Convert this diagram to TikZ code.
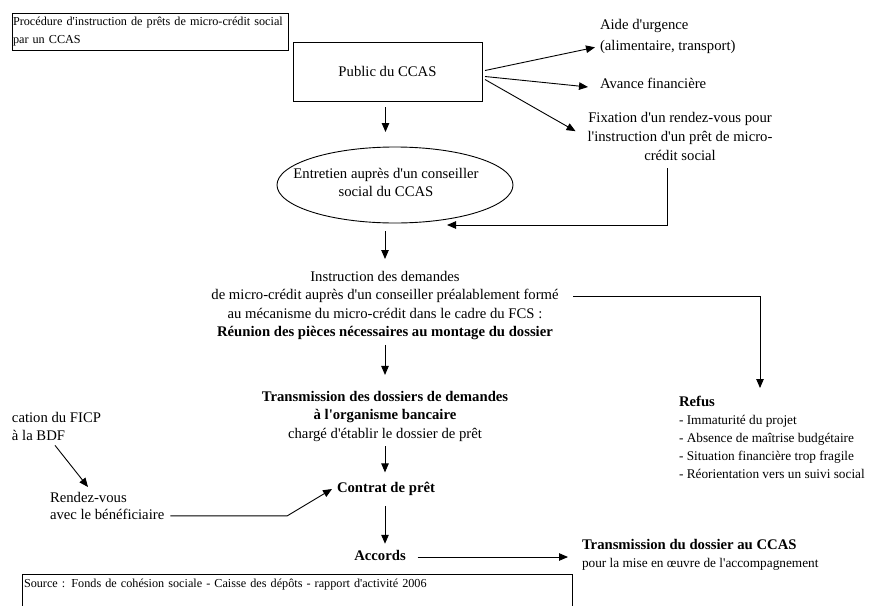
\documentclass[tikz,border=0pt]{standalone}
\usepackage{fontspec}
\setmainfont{Liberation Serif}[Ligatures=TeXOff]
\usetikzlibrary{arrows.meta,positioning,shapes.geometric,calc}

\begin{document}
\begin{tikzpicture}[x=1pt, y=-1pt, >={Triangle[length=9pt,width=7.5pt]},
    line width=0.9pt,
    every node/.style={inner sep=0pt, outer sep=0pt},
    txt/.style={font=\fontsize{14.7}{19}\selectfont, align=center},
    txtsmall/.style={font=\fontsize{12.2}{18}\selectfont, align=left},
    txtmid/.style={font=\fontsize{13.3}{18}\selectfont, align=left}]
    \useasboundingbox (0,0) rectangle (869,605);

    % Title and source boxes
    \node[draw, txtsmall, anchor=north west, text width=274pt, inner xsep=1pt,
        minimum height=37pt] (titre) at (12,13)
        {Procédure d'instruction de prêts de micro-crédit social\\par un CCAS};
    \node[draw, txtsmall, anchor=north west, text width=546pt, inner xsep=2pt,
        inner ysep=5pt, text depth=40pt] (source) at (22,574)
        {Source : Fonds de cohésion sociale - Caisse des dépôts - rapport d'activité 2006};

    % Public and first orientations
    \node[draw, txt, minimum width=189pt, minimum height=59pt] (public) at (387.5,71.5) {Public du CCAS};
    \node[txt, align=left, anchor=north west, font=\fontsize{14.7}{21}\selectfont] (aide) at (600,19)
        {Aide d'urgence\\(alimentaire, transport)};
    \node[txt, anchor=west] (avance) at (600,83) {Avance financière};
    \node[txt, anchor=north] (fixation) at (680,112)
        {Fixation d'un rendez-vous pour\\l'instruction d'un prêt de micro-\\crédit social};

    \draw[->] ($(public.east)+(3,-1)$) -- ($(aide.south west)+(-5,-6)$);
    \draw[->] ($(public.east)+(3,5)$) -- ($(avance.west)+(-12,4)$);
    \draw[->] ($(public.east)+(3,8)$) -- ($(fixation.west)+(-12,-5)$);

    % Interview
    \node[draw, ellipse, minimum width=236pt, minimum height=76pt] (entretien) at (395,185) {};
    \node[txt, font=\fontsize{14.7}{18}\selectfont] (entretientxt) at (386,182)
        {Entretien auprès d'un conseiller\\social du CCAS};
    \coordinate (retour) at (447,225);
    \draw[->] ($(public.south)+(-2,6)$) -- ++(0,25);
    \draw[->] ($(fixation.south)+(-13,8)$) |- (retour);

    % Instruction of the request
    \node[txt, anchor=north, font=\fontsize{14.7}{18.5}\selectfont] (instruction) at (385,271)
        {Instruction des demandes\\de micro-crédit auprès d'un conseiller préalablement formé\\
        au mécanisme du micro-crédit dans le cadre du FCS :\\
        \textbf{Réunion des pièces nécessaires au montage du dossier}};
    \draw[->] ($(entretien.south)+(-10,8)$) -- ++(0,28);

    % Refusal
    \node[txtmid, anchor=north west] (refus) at (679,396)
        {{\fontsize{14.7}{18}\selectfont\bfseries Refus}\\- Immaturité du projet\\
        - Absence de maîtrise budgétaire\\- Situation financière trop fragile\\
        - Réorientation vers un suivi social};
    \coordinate (depart) at (573,296);
    \draw[->] (depart) -| ($(refus.north west)+(81,-8)$);

    % Bank
    \node[txt, anchor=north, font=\fontsize{14.7}{18.5}\selectfont] (transmission) at (385,391)
        {\textbf{Transmission des dossiers de demandes}\\\textbf{à l'organisme bancaire}\\
        chargé d'établir le dossier de prêt};
    \draw[->] ($(instruction.south)+(0,5)$) -- ++(0,30);
    \node[txt, font=\fontsize{14.7}{19}\selectfont\bfseries] (contrat) at (386,489) {Contrat de prêt};
    \draw[->] ($(transmission.south)+(0,5)$) -- ++(0,26);

    % FICP and appointment
    \node[txt, align=left, anchor=north west, font=\fontsize{14.7}{18}\selectfont] (ficp) at (12,412)
        {cation du FICP\\à la BDF};
    \node[txt, align=left, anchor=north west, font=\fontsize{14.7}{17.5}\selectfont] (rdv) at (50,492)
        {Rendez-vous\\avec le bénéficiaire};
    \draw[->] ($(ficp.south west)+(43,5)$) -- ($(rdv.north west)+(38,-5)$);
    \draw[->] ($(rdv.south east)+(6,-4)$) -- ++(117,0) -- ($(contrat.west)+(-5,0)$);

    % Agreement
    \node[txt, font=\fontsize{14.7}{19}\selectfont\bfseries] (accords) at (380,555) {Accords};
    \draw[->] ($(contrat.south)+(-1,10)$) -- ++(0,38);
    \node[txtmid, anchor=north west] (ccas) at (582,539)
        {{\fontsize{14.7}{18}\selectfont\bfseries Transmission du dossier au CCAS}\\
        pour la mise en œuvre de l'accompagnement};
    \draw[->, shorten >=14pt] ($(accords.east)+(12,2)$) coordinate (accfin) -- (accfin -| ccas.west);
\end{tikzpicture}
\end{document}
